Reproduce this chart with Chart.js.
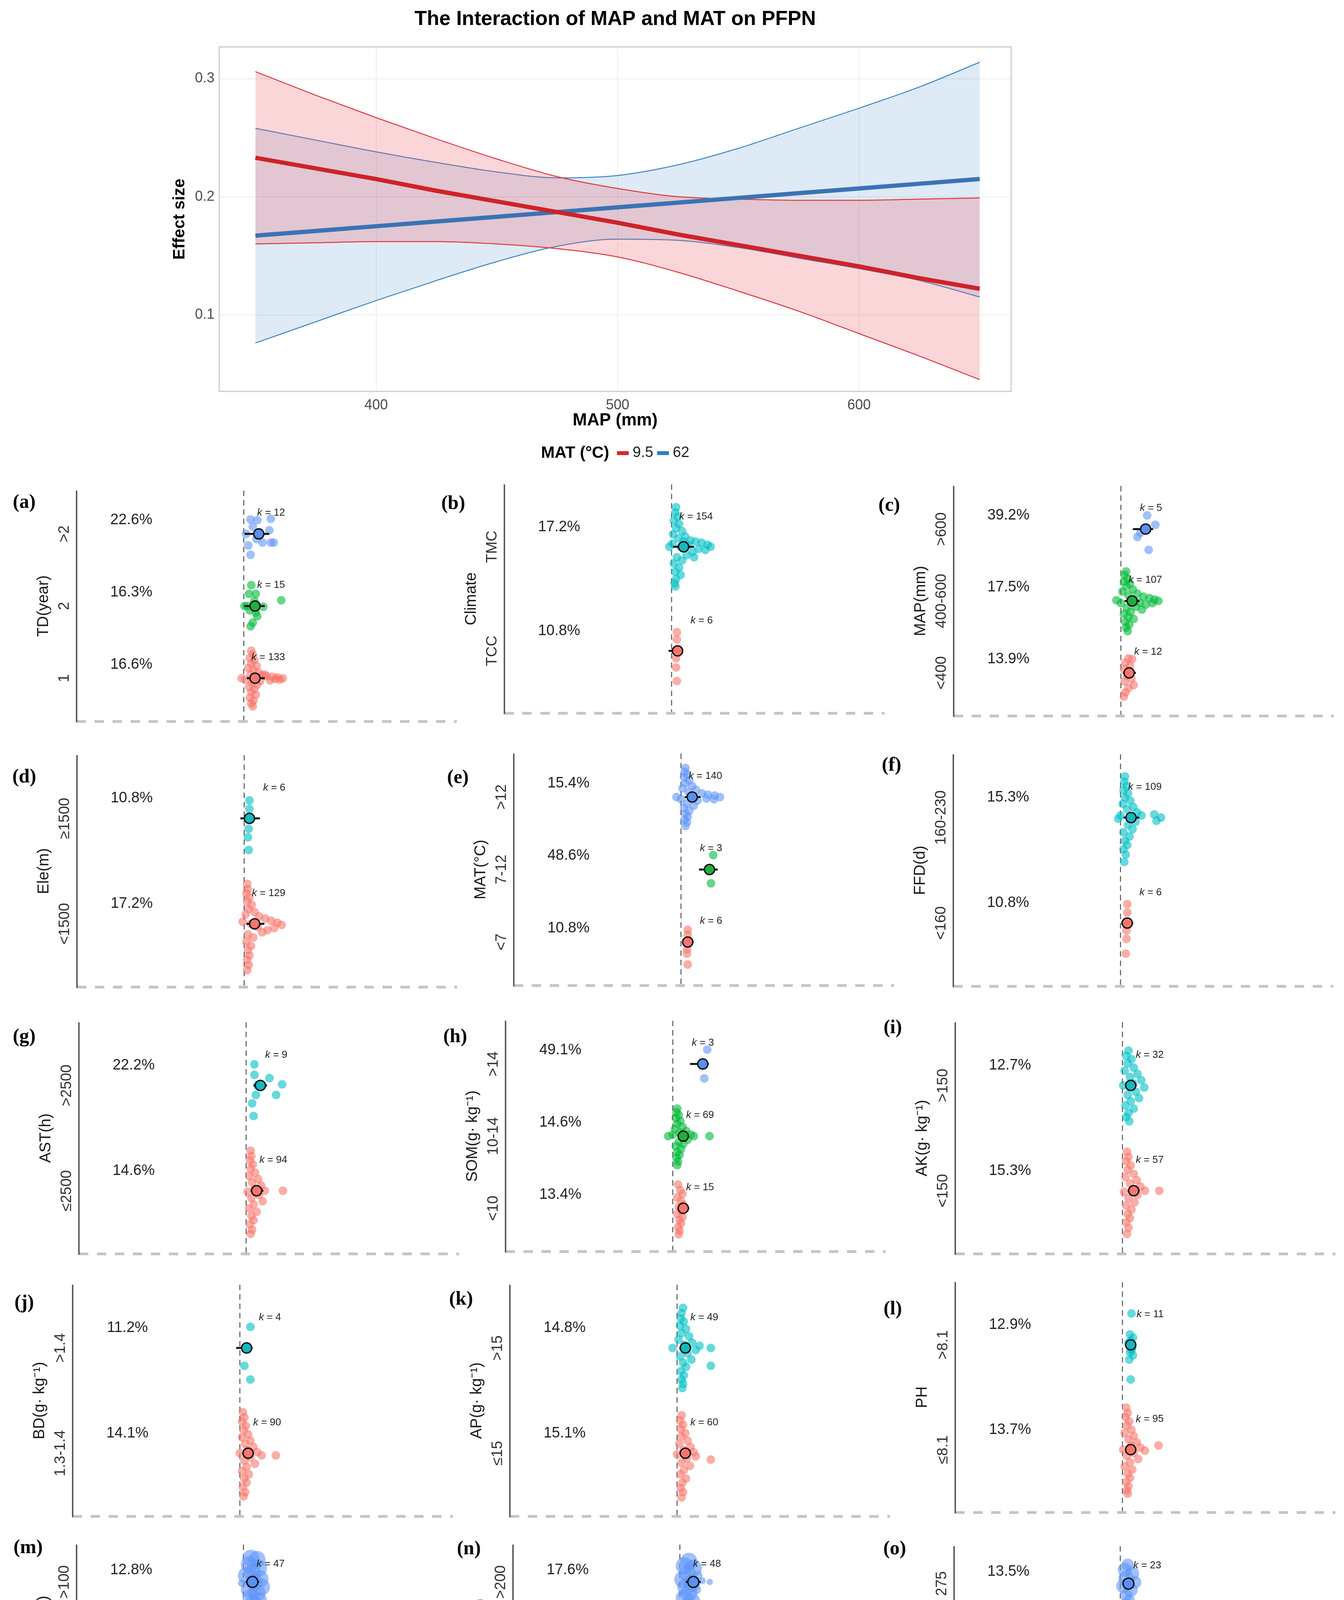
<!DOCTYPE html>
<html>
<head>
<meta charset="utf-8">
<script src="https://cdn.jsdelivr.net/npm/chart.js@4.4.1/dist/chart.umd.min.js"></script>
<style>
html, body { margin: 0; padding: 0; background: #fff; }
#page { position: relative; width: 3440px; height: 4579px; overflow: hidden; background: #fff; }
canvas { position: absolute; }
</style>
</head>
<body>
<div id="page"></div>
<script>
// ---------- top panel: MAP x MAT interaction ----------
const plotTitle = 'The Interaction of MAP and MAT on PFPN';
const mapMm = [350, 375, 400, 425, 450, 475, 500, 525, 550, 575, 600, 625, 650];
const mat95Fit   = [0.233, 0.224, 0.215, 0.205, 0.196, 0.187, 0.178, 0.168, 0.159, 0.150, 0.141, 0.131, 0.122];
const mat95Upper = [0.306, 0.286, 0.267, 0.249, 0.232, 0.217, 0.207, 0.200, 0.198, 0.197, 0.197, 0.198, 0.199];
const mat95Lower = [0.160, 0.161, 0.162, 0.162, 0.160, 0.156, 0.149, 0.136, 0.120, 0.103, 0.084, 0.065, 0.045];
const mat62Fit   = [0.167, 0.171, 0.175, 0.179, 0.183, 0.187, 0.191, 0.195, 0.199, 0.203, 0.207, 0.211, 0.215];
const mat62Upper = [0.258, 0.248, 0.238, 0.229, 0.221, 0.216, 0.218, 0.227, 0.241, 0.258, 0.275, 0.293, 0.314];
const mat62Lower = [0.076, 0.094, 0.112, 0.129, 0.145, 0.158, 0.164, 0.163, 0.157, 0.148, 0.139, 0.129, 0.115];
const mapTicks = [400, 500, 600];
const effTicks = [0.1, 0.2, 0.3];
const matLegend = ['9.5', '62'];

// ---------- subgroup panels (groups listed bottom -> top) ----------
const esTicks = [-2, -1, 0, 1, 2];
const precLabels = ['12.5', '13.0', '13.5', '14.0'];
const precRadius = [8, 12, 15, 18];

const a_cats = ['1', '2', '>2'];
const a_pct = ['16.6%', '16.3%', '22.6%'];
const a_k = [133, 15, 12];
const a_mean = [0.15, 0.15, 0.20];
const a_ci = [[0.04, 0.28], [0.01, 0.28], [0.01, 0.34]];
const a_pts = [
  [[0.10,0.38],[0.12,0.33],[0.08,0.28],[0.14,0.25],[0.10,0.20],[0.17,0.17],[0.06,0.14],[0.13,0.11],[0.20,0.08],[0.09,0.05],[0.24,0.04],[0.30,0.03],[0.38,0.02],[0.45,0.01],[0.52,0.0],[0.48,-0.02],[0.42,-0.01],[-0.03,0.0],[0.02,-0.02],[0.15,0.0],[0.22,-0.04],[0.11,-0.06],[0.18,-0.09],[0.07,-0.12],[0.14,-0.15],[0.10,-0.19],[0.16,-0.23],[0.08,-0.27],[0.13,-0.31],[0.10,-0.35],[0.12,-0.39],[0.28,0.05],[0.35,-0.03]],
  [[0.10,0.29],[0.07,0.17],[0.16,0.17],[0.50,0.08],[0.01,0.0],[0.26,-0.01],[0.08,-0.06],[0.16,-0.09],[0.18,-0.14],[0.12,-0.23],[0.09,-0.28],[0.05,0.0],[0.14,0.07]],
  [[0.09,0.20],[0.18,0.19],[0.36,0.21],[0.12,0.10],[0.34,0.05],[0.03,0.0],[0.17,-0.07],[0.25,-0.12],[0.36,-0.12],[0.40,-0.12],[0.06,-0.16],[0.09,-0.29]]
];

const b_cats = ['TCC', 'TMC'];
const b_pct = ['10.8%', '17.2%'];
const b_k = [6, 154];
const b_mean = [0.08, 0.16];
const b_ci = [[-0.04, 0.14], [0.02, 0.30]];
const b_pts = [
  [[0.07,0.18],[0.07,0.11],[0.05,0.0],[0.06,-0.07],[0.06,-0.16],[0.07,-0.29]],
  [[0.06,0.38],[0.05,0.33],[0.08,0.29],[0.03,0.25],[0.10,0.22],[0.06,0.18],[0.14,0.15],[0.02,0.12],[0.18,0.10],[0.09,0.08],[0.25,0.06],[0.32,0.05],[0.40,0.04],[0.48,0.02],[0.52,0.0],[0.45,-0.03],[0.36,-0.02],[0.28,-0.05],[-0.03,0.0],[0.01,0.03],[0.12,0.0],[0.20,-0.08],[0.07,-0.10],[0.14,-0.13],[0.03,-0.16],[0.10,-0.20],[0.05,-0.24],[0.12,-0.27],[0.06,-0.31],[0.04,-0.35],[0.05,-0.38],[0.22,0.02],[0.30,-0.10],[0.16,0.05]]
];

const c_cats = ['<400', '400-600', '>600'];
const c_pct = ['13.9%', '17.5%', '39.2%'];
const c_k = [12, 107, 5];
const c_mean = [0.11, 0.15, 0.33];
const c_ci = [[0.03, 0.20], [0.05, 0.25], [0.16, 0.43]];
const c_pts = [
  [[0.10,0.20],[0.15,0.19],[0.06,0.14],[0.12,0.10],[0.04,0.05],[0.08,-0.04],[0.14,-0.08],[0.05,-0.12],[0.17,-0.17],[0.10,-0.21],[0.06,-0.27],[0.04,-0.33]],
  [[0.07,0.41],[0.05,0.36],[0.09,0.31],[0.04,0.27],[0.12,0.24],[0.07,0.20],[0.16,0.16],[0.02,0.13],[0.22,0.10],[0.10,0.08],[0.30,0.06],[0.38,0.04],[0.45,0.02],[0.50,0.0],[0.42,-0.03],[0.33,-0.05],[-0.06,0.01],[0.00,-0.03],[0.15,0.0],[0.25,-0.02],[0.20,-0.08],[0.08,-0.10],[0.28,-0.12],[0.13,-0.15],[0.04,-0.18],[0.10,-0.22],[0.17,-0.25],[0.06,-0.29],[0.11,-0.33],[0.07,-0.37],[0.09,-0.42]],
  [[0.35,0.19],[0.46,0.06],[0.26,-0.05],[0.22,-0.11],[0.37,-0.29]]
];

const d_cats = ['<1500', '\u22651500'];
const d_pct = ['17.2%', '10.8%'];
const d_k = [129, 6];
const d_mean = [0.14, 0.07];
const d_ci = [[0.03, 0.27], [-0.05, 0.21]];
const d_pts = [
  [[0.04,0.38],[0.05,0.33],[0.03,0.29],[0.07,0.25],[0.04,0.21],[0.10,0.18],[0.06,0.14],[0.14,0.11],[0.02,0.09],[0.20,0.07],[0.28,0.05],[0.36,0.03],[0.44,0.01],[0.50,-0.01],[0.40,-0.04],[0.31,-0.06],[-0.02,0.02],[0.09,0.0],[0.18,-0.03],[0.24,-0.08],[0.05,-0.10],[0.12,-0.13],[0.03,-0.17],[0.09,-0.21],[0.05,-0.25],[0.07,-0.30],[0.04,-0.34],[0.06,-0.39],[0.04,-0.44]],
  [[0.07,0.17],[0.07,0.09],[0.05,0.0],[0.06,-0.10],[0.05,-0.18],[0.06,-0.30]]
];

const e_cats = ['<7', '7-12', '>12'];
const e_pct = ['10.8%', '48.6%', '15.4%'];
const e_k = [6, 3, 140];
const e_mean = [0.09, 0.38, 0.15];
const e_ci = [[0.02, 0.17], [0.24, 0.49], [0.05, 0.26]];
const e_pts = [
  [[0.09,0.17],[0.09,0.10],[0.07,0.0],[0.08,-0.10],[0.08,-0.16],[0.09,-0.31]],
  [[0.43,0.20],[0.38,0.0],[0.40,-0.19]],
  [[0.06,0.40],[0.05,0.35],[0.08,0.31],[0.04,0.27],[0.11,0.23],[0.06,0.19],[0.15,0.15],[0.02,0.12],[0.20,0.10],[0.10,0.07],[0.28,0.05],[0.36,0.03],[0.45,0.02],[0.52,0.0],[0.44,-0.03],[0.34,-0.02],[-0.06,0.0],[0.0,-0.03],[0.14,0.01],[0.22,-0.05],[0.08,-0.09],[0.17,-0.12],[0.04,-0.15],[0.11,-0.19],[0.06,-0.23],[0.09,-0.27],[0.05,-0.31],[0.08,-0.35],[0.06,-0.40]]
];

const f_cats = ['<160', '160-230'];
const f_pct = ['10.8%', '15.3%'];
const f_k = [6, 109];
const f_mean = [0.09, 0.14];
const f_ci = [[0.01, 0.17], [0.04, 0.25]];
const f_pts = [
  [[0.09,0.18],[0.09,0.10],[0.07,0.0],[0.08,-0.07],[0.08,-0.15],[0.07,-0.29]],
  [[0.06,0.39],[0.05,0.34],[0.08,0.30],[0.04,0.26],[0.10,0.23],[0.06,0.19],[0.13,0.16],[0.03,0.13],[0.17,0.10],[0.09,0.08],[0.22,0.05],[0.28,0.02],[0.15,0.0],[0.0,0.02],[-0.03,-0.01],[0.45,0.03],[0.54,0.0],[0.48,-0.03],[0.20,-0.04],[0.10,-0.07],[0.16,-0.11],[0.04,-0.14],[0.12,-0.18],[0.06,-0.22],[0.09,-0.26],[0.04,-0.30],[0.07,-0.35],[0.05,-0.42]]
];

const g_cats = ['\u22642500', '>2500'];
const g_pct = ['14.6%', '22.2%'];
const g_k = [94, 9];
const g_mean = [0.14, 0.19];
const g_ci = [[0.06, 0.23], [0.10, 0.28]];
const g_pts = [
  [[0.06,0.38],[0.07,0.33],[0.05,0.29],[0.09,0.25],[0.06,0.21],[0.12,0.17],[0.04,0.14],[0.16,0.11],[0.08,0.08],[0.20,0.05],[0.12,0.02],[0.25,0.0],[0.02,-0.01],[0.49,0.0],[0.17,-0.04],[0.07,-0.07],[0.22,-0.10],[0.10,-0.13],[0.04,-0.17],[0.14,-0.20],[0.07,-0.24],[0.10,-0.28],[0.05,-0.32],[0.08,-0.37],[0.06,-0.41]],
  [[0.11,0.20],[0.11,0.10],[0.31,0.07],[0.48,0.01],[0.13,-0.09],[0.40,-0.09],[0.08,-0.17],[0.10,-0.29],[0.15,0.0]]
];

const h_cats = ['<10', '10-14', '>14'];
const h_pct = ['13.4%', '14.6%', '49.1%'];
const h_k = [15, 69, 3];
const h_mean = [0.14, 0.14, 0.40];
const h_ci = [[0.06, 0.22], [0.06, 0.22], [0.23, 0.48]];
const h_pts = [
  [[0.07,0.33],[0.10,0.25],[0.13,0.20],[0.06,0.15],[0.11,0.10],[0.14,0.05],[0.08,0.02],[0.12,-0.04],[0.06,-0.08],[0.13,-0.12],[0.09,-0.16],[0.11,-0.21],[0.07,-0.26],[0.09,-0.31],[0.08,-0.36]],
  [[0.06,0.38],[0.05,0.33],[0.08,0.29],[0.04,0.25],[0.10,0.21],[0.06,0.17],[0.13,0.13],[0.03,0.10],[0.18,0.07],[0.09,0.05],[0.24,0.02],[0.28,0.0],[-0.06,0.0],[0.0,0.02],[0.15,-0.02],[0.49,0.0],[0.20,-0.05],[0.08,-0.08],[0.14,-0.11],[0.04,-0.14],[0.11,-0.18],[0.06,-0.22],[0.09,-0.26],[0.05,-0.30],[0.07,-0.35],[0.06,-0.40]],
  [[0.46,0.20],[0.40,0.0],[0.42,-0.20]]
];

const i_cats = ['<150', '>150'];
const i_pct = ['15.3%', '12.7%'];
const i_k = [57, 32];
const i_mean = [0.15, 0.11];
const i_ci = [[0.07, 0.23], [0.04, 0.19]];
const i_pts = [
  [[0.06,0.37],[0.08,0.32],[0.05,0.28],[0.11,0.24],[0.07,0.20],[0.15,0.16],[0.04,0.13],[0.19,0.10],[0.10,0.07],[0.24,0.04],[0.14,0.01],[0.02,-0.01],[0.30,0.0],[0.49,0.0],[0.20,-0.04],[0.08,-0.07],[0.16,-0.11],[0.05,-0.14],[0.12,-0.18],[0.07,-0.22],[0.10,-0.26],[0.05,-0.30],[0.08,-0.35],[0.06,-0.41]],
  [[0.08,0.33],[0.05,0.28],[0.12,0.25],[0.07,0.21],[0.15,0.17],[0.03,0.14],[0.20,0.11],[0.10,0.08],[0.25,0.05],[0.14,0.02],[0.01,0.0],[0.29,-0.02],[0.18,-0.06],[0.07,-0.09],[0.22,-0.12],[0.11,-0.15],[0.04,-0.19],[0.15,-0.22],[0.08,-0.26],[0.05,-0.30],[0.09,-0.34]]
];

const j_cats = ['1.3-1.4', '>1.4'];
const j_pct = ['14.1%', '11.2%'];
const j_k = [90, 4];
const j_mean = [0.11, 0.09];
const j_ci = [[0.03, 0.19], [-0.05, 0.17]];
const j_pts = [
  [[0.04,0.39],[0.06,0.34],[0.03,0.30],[0.08,0.26],[0.05,0.22],[0.11,0.18],[0.03,0.15],[0.14,0.12],[0.07,0.09],[0.18,0.06],[0.10,0.03],[0.23,0.01],[0.0,0.0],[0.29,-0.02],[0.48,-0.02],[0.14,-0.04],[0.06,-0.07],[0.20,-0.10],[0.09,-0.13],[0.03,-0.17],[0.12,-0.20],[0.06,-0.24],[0.09,-0.28],[0.04,-0.32],[0.07,-0.37],[0.05,-0.41]],
  [[0.14,0.20],[0.09,0.0],[0.06,-0.17],[0.14,-0.30]]
];

const k_cats = ['\u226415', '>15'];
const k_pct = ['15.1%', '14.8%'];
const k_k = [60, 49];
const k_mean = [0.11, 0.11];
const k_ci = [[0.03, 0.19], [0.03, 0.19]];
const k_pts = [
  [[0.06,0.36],[0.04,0.31],[0.08,0.27],[0.05,0.23],[0.11,0.19],[0.06,0.16],[0.14,0.12],[0.03,0.09],[0.18,0.06],[0.09,0.03],[0.22,0.01],[0.0,-0.01],[0.25,-0.03],[0.45,-0.06],[0.13,-0.05],[0.06,-0.09],[0.17,-0.12],[0.09,-0.16],[0.04,-0.20],[0.12,-0.24],[0.07,-0.28],[0.05,-0.33],[0.08,-0.37],[0.06,-0.42]],
  [[0.08,0.38],[0.06,0.33],[0.05,0.28],[0.09,0.25],[0.04,0.21],[0.12,0.18],[0.06,0.14],[0.16,0.11],[0.02,0.08],[0.20,0.05],[0.10,0.03],[0.30,0.02],[0.45,0.0],[-0.06,0.0],[0.25,-0.02],[0.45,-0.17],[0.14,-0.05],[0.04,-0.08],[0.19,-0.11],[0.08,-0.14],[0.12,-0.18],[0.05,-0.22],[0.09,-0.26],[0.06,-0.30],[0.08,-0.34],[0.07,-0.38]]
];

const l_cats = ['\u22648.1', '>8.1'];
const l_pct = ['13.7%', '12.9%'];
const l_k = [95, 11];
const l_mean = [0.11, 0.11];
const l_ci = [[0.04, 0.18], [0.04, 0.18]];
const l_pts = [
  [[0.05,0.40],[0.07,0.35],[0.04,0.31],[0.09,0.27],[0.06,0.23],[0.12,0.19],[0.03,0.16],[0.15,0.13],[0.08,0.10],[0.19,0.07],[0.11,0.04],[0.24,0.02],[0.01,0.0],[0.30,-0.01],[0.48,0.04],[0.15,-0.03],[0.06,-0.06],[0.21,-0.09],[0.10,-0.12],[0.03,-0.16],[0.13,-0.19],[0.07,-0.23],[0.10,-0.27],[0.05,-0.31],[0.08,-0.35],[0.06,-0.39],[0.07,-0.42]],
  [[0.12,0.30],[0.10,0.10],[0.14,0.07],[0.08,0.02],[0.13,-0.03],[0.10,-0.07],[0.14,-0.10],[0.09,-0.14],[0.12,-0.05],[0.11,0.04],[0.11,-0.33]]
];

const m_cats = ['\u226450', '50-100', '>100'];
const m_pct = ['18.5%', '15.8%', '12.8%'];
const m_k = [32, 55, 47];
const m_mean = [0.17, 0.15, 0.12];
const m_ci = [[0.08, 0.26], [0.06, 0.24], [0.03, 0.21]];
const m_pts = [
  [[0.05,0.38],[0.20,0.35],[0.30,0.30],[0.02,0.25],[0.12,0.22],[0.33,0.15],[0.00,0.10],[0.25,0.08],[0.08,0.02],[0.32,0.0],[0.03,-0.08],[0.22,-0.10],[0.34,-0.14],[0.06,-0.18],[0.15,-0.22],[0.28,-0.20]],
  [[0.14,0.42],[0.10,0.33],[0.18,0.28],[0.06,0.22],[0.22,0.18],[0.12,0.12],[0.28,0.08],[0.03,0.05],[0.36,0.02,12],[0.18,0.0],[0.08,-0.04],[0.26,-0.08],[0.14,-0.13],[0.04,-0.18],[0.20,-0.22],[0.10,-0.27],[0.16,-0.33],[0.12,-0.40]],
  [[0.10,0.38],[0.18,0.36],[0.08,0.28],[0.20,0.22],[0.12,0.15],[0.04,0.10],[0.22,0.05],[0.14,0.0],[-0.02,-0.02,10],[0.24,-0.08],[0.08,-0.12],[0.18,-0.18],[0.10,-0.25],[0.20,-0.30],[0.13,-0.36]]
];

const n_cats = ['<100', '100-200', '>200'];
const n_pct = ['15.7%', '16.8%', '17.6%'];
const n_k = [10, 102, 48];
const n_mean = [0.18, 0.18, 0.18];
const n_ci = [[0.08, 0.28], [0.08, 0.28], [0.08, 0.28]];
const n_pts = [
  [[0.15,0.18,8],[0.20,0.10,8],[0.12,0.05,8],[0.24,0.0,8],[0.16,-0.05,8],[0.21,-0.10,8],[0.14,-0.12,8],[0.10,0.0,8],[0.19,0.08,8],[0.17,-0.02,8]],
  [[0.10,0.36],[0.16,0.30],[0.06,0.24],[0.20,0.20],[0.10,0.14],[0.26,0.10],[0.02,0.06],[0.34,0.04,12],[0.46,0.0,9],[0.16,0.0],[0.06,-0.06],[0.24,-0.10],[0.12,-0.16],[0.04,-0.22],[0.20,-0.26],[0.10,-0.32],[0.14,-0.38]],
  [[0.12,0.33],[0.06,0.26],[0.18,0.22],[0.10,0.14],[0.24,0.10,12],[0.04,0.04],[0.30,0.02,9],[0.40,0.0,8],[0.16,-0.02],[0.08,-0.08],[0.22,-0.12,12],[0.12,-0.18],[0.06,-0.26],[0.16,-0.32],[0.10,-0.40],[0.12,-0.46]]
];

const o_cats = ['125', '200', '275'];
const o_pct = ['14.5%', '24.9%', '13.5%'];
const o_k = [35, 23, 23];
const o_mean = [0.13, 0.22, 0.11];
const o_ci = [[0.05, 0.21], [0.13, 0.31], [0.03, 0.19]];
const o_pts = [
  [[0.05,0.26,26],[0.15,0.24,26],[0.25,0.18,24],[0.02,0.14,24],[0.18,0.10,24],[0.30,0.06,20],[0.08,0.04,22],[0.12,-0.04,18],[0.05,-0.10,16],[0.10,-0.18,14],[0.06,-0.26,12],[0.35,0.0,8],[0.42,-0.05,7],[0.48,0.02,6]],
  [[0.12,0.40,16],[0.08,0.30,20],[0.15,0.22,20],[0.10,0.12,20],[0.20,0.04,20],[0.28,0.0,14],[0.14,-0.06,20],[0.22,-0.12,18],[0.10,-0.18,18],[0.16,-0.24,14],[0.38,0.06,7],[0.40,-0.02,7],[0.12,-0.36,6]],
  [[0.10,0.30,16],[0.06,0.22,18],[0.16,0.16,18],[0.08,0.08,20],[0.20,0.02,16],[0.04,-0.04,18],[0.14,-0.10,18],[0.08,-0.18,16],[0.12,-0.26,14],[0.06,-0.34,16],[0.10,-0.42,16],[0.08,-0.47,14]]
];

// ---------- layout (page pixels) ----------
const SANS = '"Liberation Sans", Arial, Helvetica, sans-serif';
const SERIF = '"Liberation Serif", "Times New Roman", serif';
const ES_MIN = -2.23, ES_MAX = 2.84, PX_PER_ES = 192;

const PANELS = [
  {id: 'a', lab: '(a)', title: 'TD(year)',        cats: a_cats, pct: a_pct, k: a_k, mean: a_mean, ci: a_ci, pts: a_pts, zero: 624,  top: 1256, bot: 1847, labXY: [62, 1287]},
  {id: 'b', lab: '(b)', title: 'Climate',         cats: b_cats, pct: b_pct, k: b_k, mean: b_mean, ci: b_ci, pts: b_pts, zero: 1719, top: 1240, bot: 1826, labXY: [1160, 1290]},
  {id: 'c', lab: '(c)', title: 'MAP(mm)',         cats: c_cats, pct: c_pct, k: c_k, mean: c_mean, ci: c_ci, pts: c_pts, zero: 2869, top: 1244, bot: 1833, labXY: [2276, 1295]},
  {id: 'd', lab: '(d)', title: 'Ele(m)',          cats: d_cats, pct: d_pct, k: d_k, mean: d_mean, ci: d_ci, pts: d_pts, zero: 625,  top: 1933, bot: 2527, labXY: [62, 1990]},
  {id: 'e', lab: '(e)', title: 'MAT(\u00B0C)',    cats: e_cats, pct: e_pct, k: e_k, mean: e_mean, ci: e_ci, pts: e_pts, zero: 1743, top: 1929, bot: 2523, labXY: [1172, 1992]},
  {id: 'f', lab: '(f)', title: 'FFD(d)',          cats: f_cats, pct: f_pct, k: f_k, mean: f_mean, ci: f_ci, pts: f_pts, zero: 2868, top: 1931, bot: 2525, labXY: [2282, 1960]},
  {id: 'g', lab: '(g)', title: 'AST(h)',          cats: g_cats, pct: g_pct, k: g_k, mean: g_mean, ci: g_ci, pts: g_pts, zero: 630,  top: 2617, bot: 3210, labXY: [62, 2655]},
  {id: 'h', lab: '(h)', title: 'SOM(g\u00B7 kg\u207B\u00B9)', cats: h_cats, pct: h_pct, k: h_k, mean: h_mean, ci: h_ci, pts: h_pts, zero: 1722, top: 2613, bot: 3204, labXY: [1165, 2655]},
  {id: 'i', lab: '(i)', title: 'AK(g\u00B7 kg\u207B\u00B9)',  cats: i_cats, pct: i_pct, k: i_k, mean: i_mean, ci: i_ci, pts: i_pts, zero: 2873, top: 2617, bot: 3210, labXY: [2285, 2632]},
  {id: 'j', lab: '(j)', title: 'BD(g\u00B7 kg\u207B\u00B9)',  cats: j_cats, pct: j_pct, k: j_k, mean: j_mean, ci: j_ci, pts: j_pts, zero: 614,  top: 3289, bot: 3882, labXY: [62, 3336]},
  {id: 'k', lab: '(k)', title: 'AP(g\u00B7 kg\u207B\u00B9)',  cats: k_cats, pct: k_pct, k: k_k, mean: k_mean, ci: k_ci, pts: k_pts, zero: 1733, top: 3289, bot: 3882, labXY: [1180, 3327]},
  {id: 'l', lab: '(l)', title: 'PH',              cats: l_cats, pct: l_pct, k: l_k, mean: l_mean, ci: l_ci, pts: l_pts, zero: 2873, top: 3282, bot: 3872, labXY: [2285, 3352]},
  {id: 'm', lab: '(m)', title: 'Irrigation(mm)',  cats: m_cats, pct: m_pct, k: m_k, mean: m_mean, ci: m_ci, pts: m_pts, zero: 624,  top: 3954, bot: 4465, labXY: [72, 3963], row5: true, hollowFirst: true},
  {id: 'n', lab: '(n)', title: 'RN(kg\u00B7 hm\u207B\u00B2)', cats: n_cats, pct: n_pct, k: n_k, mean: n_mean, ci: n_ci, pts: n_pts, zero: 1741, top: 3954, bot: 4465, labXY: [1200, 3966], row5: true},
  {id: 'o', lab: '(o)', title: 'SRL(mm)',         cats: o_cats, pct: o_pct, k: o_k, mean: o_mean, ci: o_ci, pts: o_pts, zero: 2870, top: 3958, bot: 4470, labXY: [2290, 3966], row5: true}
];

const HUES = {
  red:   {pt: 'rgba(248,118,109,0.6)', mean: '#F8766D'},
  green: {pt: 'rgba(0,186,56,0.6)',    mean: '#1DAF3F'},
  blue:  {pt: 'rgba(97,150,250,0.6)',  mean: '#5A90EE'},
  teal:  {pt: 'rgba(0,191,196,0.6)',   mean: '#13B8BD'}
};

const page = document.getElementById('page');
function addCanvas(x, y, w, h) {
  const c = document.createElement('canvas');
  c.width = w; c.height = h;
  c.style.left = x + 'px'; c.style.top = y + 'px';
  c.style.width = w + 'px'; c.style.height = h + 'px';
  page.appendChild(c);
  return c;
}

// dotted ring used for the hollow <=50 group in (m)
function ringStyle(r, color) {
  const c = document.createElement('canvas');
  const s = Math.ceil(2 * r + 8);
  c.width = s; c.height = s;
  const g = c.getContext('2d');
  g.strokeStyle = color; g.lineWidth = 3.5; g.setLineDash([3, 8]);
  g.beginPath(); g.arc(s / 2, s / 2, r, 0, Math.PI * 2); g.stroke();
  return c;
}

// ---------- top chart ----------
const xy = (ys) => mapMm.map((m, i) => ({x: m, y: ys[i]}));

const topDecor = {
  id: 'topDecor',
  afterDraw(chart) {
    const {ctx, chartArea: a} = chart;
    ctx.save();
    ctx.strokeStyle = '#cccccc';
    ctx.lineWidth = 3;
    ctx.strokeRect(a.left, a.top, a.right - a.left, a.bottom - a.top);
    const cx = (a.left + a.right) / 2;
    ctx.fillStyle = '#000';
    ctx.font = 'bold 52px ' + SANS;
    ctx.textAlign = 'center';
    ctx.textBaseline = 'middle';
    ctx.fillText(plotTitle, cx, 50);
    // legend
    const y = 1160;
    ctx.font = 'bold 42px ' + SANS;
    const wTitle = ctx.measureText('MAT (\u00B0C)').width;
    ctx.font = '38px ' + SANS;
    const w1 = ctx.measureText(matLegend[0]).width, w2 = ctx.measureText(matLegend[1]).width;
    const total = wTitle + 20 + 30 + 10 + w1 + 10 + 30 + 10 + w2;
    let x = cx - total / 2;
    ctx.textAlign = 'left';
    ctx.font = 'bold 42px ' + SANS;
    ctx.fillText('MAT (\u00B0C)', x, y);
    x += wTitle + 20;
    ctx.fillStyle = '#e0242b'; ctx.fillRect(x, y - 5, 30, 10);
    x += 40;
    ctx.fillStyle = '#222'; ctx.font = '38px ' + SANS; ctx.fillText(matLegend[0], x, y);
    x += w1 + 10;
    ctx.fillStyle = '#2f7ec4'; ctx.fillRect(x, y - 5, 30, 10);
    x += 40;
    ctx.fillStyle = '#222'; ctx.fillText(matLegend[1], x, y);
    ctx.restore();
  }
};

const bandLine = (ys, color, fill, bg) => ({
  data: xy(ys), borderColor: color, borderWidth: 2.5, pointRadius: 0, order: 1,
  cubicInterpolationMode: 'monotone', fill: fill, backgroundColor: bg || 'transparent'
});

new Chart(addCanvas(0, 0, 3440, 1220), {
  type: 'line',
  data: {
    datasets: [
      bandLine(mat95Upper, '#e2353b', false),
      bandLine(mat95Lower, '#e2353b', '-1', 'rgba(235,70,80,0.22)'),
      bandLine(mat62Upper, '#3f86c6', false),
      bandLine(mat62Lower, '#3f86c6', '-1', 'rgba(70,140,200,0.18)'),
      {data: xy(mat95Fit), borderColor: '#cf2229', borderWidth: 11, pointRadius: 0, order: 0, fill: false},
      {data: xy(mat62Fit), borderColor: '#3a73b5', borderWidth: 11, pointRadius: 0, order: 0, fill: false}
    ]
  },
  options: {
    responsive: false, animation: false, devicePixelRatio: 1, events: [],
    layout: {padding: {left: 431, right: 852, top: 120, bottom: 117}},
    plugins: {legend: {display: false}, tooltip: {enabled: false}},
    scales: {
      x: {
        type: 'linear', min: 335, max: 663,
        afterFit: s => { s.height = 101; },
        afterBuildTicks: s => { s.ticks = mapTicks.map(v => ({value: v})); },
        grid: {color: '#ececec', lineWidth: 2, drawTicks: false},
        border: {display: false},
        ticks: {padding: 14, color: '#4d4d4d', font: {family: SANS, size: 36}},
        title: {display: true, text: 'MAP (mm)', color: '#000', padding: 0, font: {family: SANS, size: 44, weight: 'bold'}}
      },
      y: {
        type: 'linear', min: 0.035, max: 0.327,
        afterFit: s => { s.width = 130; },
        afterBuildTicks: s => { s.ticks = effTicks.map(v => ({value: v})); },
        grid: {color: '#ececec', lineWidth: 2, drawTicks: false},
        border: {display: false},
        ticks: {padding: 12, color: '#4d4d4d', font: {family: SANS, size: 36}, callback: v => String(v)},
        title: {display: true, text: 'Effect size', color: '#000', padding: 4, font: {family: SANS, size: 42, weight: 'bold'}}
      }
    }
  },
  plugins: [topDecor]
});

// ---------- subgroup panels ----------
function makeDecor(p, cx, cy) {
  return {
    id: 'decor_' + p.id,
    beforeDatasetsDraw(chart) {
      const {ctx, chartArea: a, scales: {x}} = chart;
      ctx.save();
      const zx = x.getPixelForValue(0);
      ctx.strokeStyle = '#555'; ctx.lineWidth = 2.5; ctx.setLineDash([14, 10]);
      ctx.beginPath(); ctx.moveTo(zx, a.top); ctx.lineTo(zx, a.bottom); ctx.stroke();
      if (!p.row5) {
        ctx.strokeStyle = '#c4c4c4'; ctx.lineWidth = 7; ctx.setLineDash([24, 22]);
        ctx.beginPath(); ctx.moveTo(a.left, a.bottom); ctx.lineTo(a.right, a.bottom); ctx.stroke();
      }
      ctx.setLineDash([]);
      ctx.strokeStyle = '#4d4d4d'; ctx.lineWidth = 3.5;
      ctx.beginPath(); ctx.moveTo(a.left, a.top); ctx.lineTo(a.left, a.bottom + (p.row5 ? 0 : 2)); ctx.stroke();
      ctx.restore();
    },
    afterDatasetsDraw(chart) {
      const {ctx, chartArea: a, scales: {x, y}} = chart;
      ctx.save();
      // panel letter
      ctx.fillStyle = '#000';
      ctx.font = 'bold 50px ' + SERIF;
      ctx.textAlign = 'center'; ctx.textBaseline = 'middle';
      ctx.fillText(p.lab, p.labXY[0] - cx, p.labXY[1] - cy);
      // y title + category labels (rotated)
      const rot = (txt, px, py, font, color) => {
        ctx.save(); ctx.translate(px, py); ctx.rotate(-Math.PI / 2);
        ctx.font = font; ctx.fillStyle = color; ctx.textAlign = 'center'; ctx.textBaseline = 'middle';
        ctx.fillText(txt, 0, 0); ctx.restore();
      };
      rot(p.title, a.left - 84, (a.top + a.bottom) / 2, '40px ' + SANS, '#1a1a1a');
      p.cats.forEach((c, i) => rot(c, a.left - 30, y.getPixelForValue(i + 1), '38px ' + SANS, '#333'));
      // percent and k labels
      p.cats.forEach((c, i) => {
        ctx.font = '38px ' + SANS; ctx.fillStyle = '#222';
        ctx.textAlign = 'center'; ctx.textBaseline = 'middle';
        ctx.fillText(p.pct[i], x.getPixelForValue(-1.5), y.getPixelForValue(i + 1.19));
        const kx = x.getPixelForValue(0.55), ky = y.getPixelForValue(i + 1.29);
        ctx.textAlign = 'right';
        ctx.font = '26px ' + SANS;
        const rest = ' = ' + p.k[i];
        ctx.fillText(rest, kx, ky);
        const w = ctx.measureText(rest).width;
        ctx.font = 'italic 26px ' + SANS;
        ctx.fillText('k', kx - w, ky);
      });
      // precision legend (bottom row)
      if (p.row5) {
        const ly = y.getPixelForValue(0.63);
        ctx.textAlign = 'left'; ctx.textBaseline = 'middle';
        ctx.font = '36px ' + SANS; ctx.fillStyle = '#333';
        ctx.fillText('Precision (1/SE)', x.getPixelForValue(-1.92), ly);
        precLabels.forEach((t, i) => {
          const d = -0.26 + 0.8 * i;
          ctx.fillStyle = '#777';
          ctx.beginPath(); ctx.arc(x.getPixelForValue(d), ly, precRadius[i], 0, Math.PI * 2); ctx.fill();
          ctx.fillStyle = '#333';
          ctx.fillText(t, x.getPixelForValue(d + 0.2), ly);
        });
      }
      ctx.restore();
    }
  };
}

PANELS.forEach(p => {
  const n = p.cats.length;
  const hues = n === 3 ? ['red', 'green', 'blue'] : ['red', 'teal'];
  const padL = 210, padR = 20, padT = 90;
  const padB = p.row5 ? 40 : 30, axisH = p.row5 ? 100 : 0;
  const left = p.zero + ES_MIN * PX_PER_ES;
  const plotW = (ES_MAX - ES_MIN) * PX_PER_ES;
  const cx = Math.round(left - padL), cy = p.top - padT;
  const cw = Math.round(plotW + padL + padR);
  const ch = (p.bot - p.top) + padT + padB + axisH;
  const baseR = p.row5 ? 22 : 11;

  const datasets = [];
  datasets.push({
    order: 0, data: p.mean.map((m, i) => ({x: m, y: i + 1})),
    pointRadius: p.row5 ? 14 : 13,
    pointBackgroundColor: hues.map(h => HUES[h].mean),
    pointBorderColor: '#111', pointBorderWidth: 3.5
  });
  p.ci.forEach((c, i) => datasets.push({
    order: 1, showLine: true, data: [{x: c[0], y: i + 1}, {x: c[1], y: i + 1}],
    borderColor: '#111', borderWidth: 5, pointRadius: 0
  }));
  p.pts.forEach((grp, i) => {
    const hollow = p.hollowFirst && i === 0;
    datasets.push({
      order: 2,
      data: grp.map(q => ({x: q[0], y: i + 1 + q[1], r: q[2] || baseR})),
      pointRadius: ctx => (ctx.raw ? ctx.raw.r : baseR),
      pointStyle: hollow ? ringStyle(16, '#F8766D') : 'circle',
      pointBackgroundColor: HUES[hues[i]].pt,
      pointBorderWidth: 0
    });
  });

  new Chart(addCanvas(cx, cy, cw, ch), {
    type: 'scatter',
    data: {datasets},
    options: {
      responsive: false, animation: false, devicePixelRatio: 1, events: [],
      layout: {padding: {left: padL, right: padR, top: padT, bottom: padB}},
      plugins: {legend: {display: false}, tooltip: {enabled: false}},
      scales: {
        x: {
          type: 'linear', min: ES_MIN, max: ES_MAX, display: !!p.row5,
          afterFit: s => { s.height = axisH; },
          afterBuildTicks: s => { s.ticks = esTicks.map(v => ({value: v})); },
          grid: {display: true, drawOnChartArea: false, drawTicks: true, tickLength: 12, color: '#555', lineWidth: 3},
          border: {display: true, color: '#555', width: 5},
          ticks: {padding: 4, color: '#555', font: {family: SANS, size: 36}, callback: v => String(v)},
          title: {display: true, text: 'Effect Size', color: '#333', padding: {top: 0, bottom: 13}, font: {family: SANS, size: 26}}
        },
        y: {type: 'linear', min: 0.4, max: n + 0.6, display: false}
      }
    },
    plugins: [makeDecor(p, cx, cy)]
  });
});
</script>
</body>
</html>
